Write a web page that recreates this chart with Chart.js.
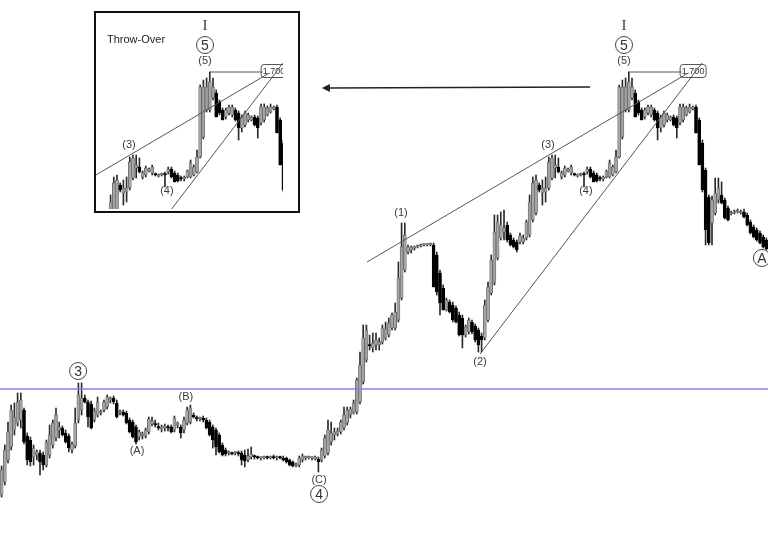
<!DOCTYPE html>
<html>
<head>
<meta charset="utf-8">
<script src="https://cdn.jsdelivr.net/npm/chart.js@4.4.0/dist/chart.umd.min.js"></script>
<style>
  body { margin: 0; background: #fff; }
  #wrap { position: relative; width: 768px; height: 540px; overflow: hidden; }
  #main { position: absolute; left: 0; top: 0; }
  #insetBox { position: absolute; left: 94px; top: 11px; width: 206px; height: 202px;
              border: 2px solid #111; box-sizing: border-box; background: #fff; }
  #inset { position: absolute; left: 96px; top: 13px; }
  #throw { position: absolute; left: 107px; top: 33px; font: 11px "Liberation Sans", Arial, sans-serif; color: #222; }
</style>
</head>
<body>
<div id="wrap">
  <canvas id="main" width="768" height="540"></canvas>
  <div id="insetBox"></div>
  <canvas id="inset" width="187" height="196"></canvas>
  <div id="throw">Throw-Over</div>
</div>
<script>
// price x1000 (1700 = 1.700)
const opens = [
  1276,1289,1311,1324,1341,1348,1351,1361,1335,1331,1314,1316,1318,1316,1306,1316,1326,1333,1341,1343,
  1338,1335,1321,1325,1351,1361,1373,1369,1367,1351,1356,1358,1361,1364,1371,1373,1368,1358,1359,1358,
  1351,1349,1344,1334,1335,1335,1339,1347,1347,1344,1342,1343,1344,1344,1341,1346,1344,1341,1348,1349,
  1356,1353,1352,1353,1351,1349,1344,1341,1336,1326,1321,1318,1318,1318,1318,1318,1316,1311,1314,1315,
  1314,1313,1313,1314,1313,1314,1313,1314,1313,1313,1311,1309,1305,1306,1311,1313,1313,1313,1312,1312,
  1311,1315,1318,1329,1336,1337,1339,1343,1348,1356,1358,1359,1369,1389,1411,1426,1423,1426,1426,1429,
  1433,1436,1443,1443,1451,1473,1501,1519,1521,1523,1524,1525,1526,1526,1526,1526,1516,1498,1483,1461,
  1469,1466,1463,1456,1453,1436,1439,1449,1445,1441,1435,1433,1451,1478,1488,1513,1533,1539,1546,1536,
  1531,1529,1529,1529,1533,1536,1551,1558,1586,1578,1579,1583,1593,1603,1604,1594,1596,1600,1598,1597,
  1595,1596,1597,1599,1602,1598,1596,1593,1592,1594,1594,1596,1599,1614,1634,1661,1661,1673,1678,1669,
  1661,1654,1658,1656,1661,1658,1643,1646,1651,1651,1654,1653,1648,1651,1656,1659,1662,1664,1651,1628,
  1601,1574,1548,1558,1571,1576,1571,1563,1557,1558,1559,1558,1559,1556,1549,1544,1541,1538,1534,1531
];
const highs = [
  1305,1326,1349,1366,1368,1378,1378,1363,1338,1334,1326,1321,1321,1319,1331,1346,1351,1363,1349,1345,
  1341,1337,1329,1363,1388,1388,1376,1371,1370,1363,1374,1361,1371,1376,1374,1375,1371,1361,1361,1360,
  1353,1351,1346,1341,1339,1343,1354,1354,1351,1348,1346,1347,1346,1346,1355,1349,1346,1354,1364,1366,
  1358,1355,1354,1355,1353,1351,1346,1343,1338,1328,1323,1320,1319,1319,1320,1320,1321,1322,1324,1316,
  1315,1314,1315,1315,1315,1316,1315,1315,1315,1314,1312,1310,1308,1315,1317,1315,1315,1314,1315,1314,
  1323,1336,1351,1349,1343,1343,1351,1364,1364,1364,1371,1393,1419,1446,1446,1436,1438,1438,1433,1446,
  1449,1453,1458,1468,1509,1548,1548,1526,1525,1525,1526,1527,1527,1527,1528,1528,1519,1501,1486,1473,
  1471,1469,1465,1459,1456,1446,1453,1451,1447,1443,1438,1471,1489,1516,1556,1556,1559,1561,1549,1538,
  1533,1531,1538,1536,1551,1576,1594,1596,1588,1591,1594,1614,1616,1616,1613,1600,1605,1603,1606,1598,
  1597,1598,1599,1604,1604,1600,1598,1595,1595,1601,1611,1606,1621,1686,1691,1693,1699,1693,1681,1671,
  1663,1663,1666,1666,1663,1660,1656,1660,1658,1655,1656,1655,1667,1667,1665,1667,1665,1666,1653,1631,
  1603,1576,1575,1593,1593,1589,1573,1565,1560,1561,1562,1561,1562,1558,1551,1546,1543,1540,1536,1533
];
const lows = [
  1274,1286,1308,1321,1336,1345,1343,1327,1306,1305,1306,1311,1296,1301,1304,1313,1323,1330,1333,1335,
  1328,1319,1318,1323,1348,1356,1368,1344,1342,1349,1354,1356,1359,1362,1368,1367,1353,1356,1355,1347,
  1338,1333,1327,1331,1332,1333,1337,1345,1344,1341,1339,1340,1340,1338,1339,1343,1333,1338,1346,1347,
  1353,1350,1350,1349,1342,1335,1323,1316,1318,1315,1315,1316,1316,1316,1315,1306,1304,1309,1312,1312,
  1312,1311,1312,1312,1312,1312,1311,1312,1310,1308,1305,1304,1304,1304,1309,1311,1312,1311,1311,1299,
  1309,1313,1316,1326,1331,1335,1337,1341,1346,1353,1357,1357,1367,1387,1409,1421,1419,1421,1421,1427,
  1431,1434,1441,1441,1449,1471,1499,1517,1518,1521,1523,1524,1525,1525,1525,1484,1476,1456,1461,1460,
  1458,1449,1448,1435,1423,1434,1437,1437,1429,1419,1419,1431,1449,1476,1486,1511,1531,1531,1529,1525,
  1523,1519,1527,1527,1531,1534,1549,1556,1579,1566,1569,1581,1591,1593,1598,1592,1594,1599,1596,1595,
  1594,1595,1584,1597,1593,1589,1589,1590,1590,1593,1593,1595,1598,1613,1632,1659,1659,1671,1654,1656,
  1651,1652,1656,1654,1650,1631,1639,1644,1649,1650,1645,1633,1646,1649,1655,1658,1661,1638,1606,1579,
  1526,1526,1526,1556,1568,1567,1552,1550,1556,1557,1558,1557,1553,1545,1537,1533,1530,1527,1523,1521
];
const closes = [
  1301,1321,1339,1361,1354,1369,1371,1329,1311,1309,1323,1319,1309,1306,1329,1336,1348,1356,1344,1336,
  1329,1323,1327,1348,1376,1373,1369,1354,1343,1360,1369,1359,1369,1374,1373,1369,1354,1359,1356,1348,
  1339,1334,1329,1339,1337,1341,1352,1350,1346,1343,1344,1345,1343,1339,1353,1348,1338,1351,1361,1363,
  1354,1352,1353,1351,1343,1336,1331,1324,1319,1316,1317,1318,1317,1318,1317,1311,1310,1315,1317,1314,
  1313,1313,1314,1313,1314,1313,1314,1313,1311,1309,1306,1305,1306,1313,1315,1314,1314,1313,1314,1309,
  1321,1333,1341,1338,1339,1340,1349,1356,1361,1362,1368,1391,1406,1433,1441,1425,1428,1431,1429,1443,
  1442,1448,1456,1459,1493,1524,1536,1524,1524,1525,1525,1526,1526,1526,1526,1484,1479,1468,1461,1471,
  1459,1451,1449,1436,1436,1444,1451,1439,1431,1426,1431,1466,1484,1511,1539,1549,1546,1543,1531,1526,
  1524,1521,1535,1533,1549,1569,1588,1591,1581,1583,1583,1609,1613,1606,1599,1598,1603,1602,1604,1596,
  1596,1597,1596,1602,1594,1589,1590,1592,1594,1600,1608,1604,1614,1684,1684,1684,1689,1684,1654,1658,
  1651,1661,1664,1664,1651,1643,1654,1658,1656,1654,1646,1643,1664,1664,1663,1664,1664,1638,1606,1581,
  1541,1528,1571,1578,1583,1568,1553,1551,1558,1559,1560,1559,1554,1546,1538,1534,1531,1528,1524,1522
];

// levels and trend lines, in (candle index, price)
const blueLevel = 1382;
const peakLevel = [[196, 1699], [212.5, 1699]];
const upperLine = [[114.2, 1509], [214.6, 1698]];
const lowerLine = [[149.5, 1417], [218.9, 1708]];
const levelTag = { text: '1.700', i: 216.1, p: 1700 };
const arrowLine = [[183.9, 1684], [100.1, 1683]];

// wave labels: [text, candle index, price]
const waveLabels = [
  ['(1)', 124.8, 1558], ['(2)', 149.5, 1409], ['(3)', 170.75, 1626], ['(4)', 182.6, 1580],
  ['(5)', 194.5, 1710], ['(A)', 42.3, 1320], ['(B)', 57.6, 1374], ['(C)', 99.2, 1291]
];
const circledLabels = [['3', 23.9, 1400], ['5', 194.5, 1726], ['4', 99.2, 1277], ['A', 237.6, 1513]];
const degreeLabels = [['I', 194.5, 1745]];

const N = opens.length;

function candleDatasets() {
  const up = opens.map((o, i) => closes[i] >= o);
  return [
    {
      type: 'bar', order: 3, grouped: false, barThickness: 1,
      data: opens.map((o, i) => ({ x: i, y: [lows[i], highs[i]] })),
      backgroundColor: '#2a2a2a'
    },
    {
      type: 'bar', order: 2, grouped: false, barThickness: 3, minBarLength: 1.5,
      data: opens.map((o, i) => ({ x: i, y: [o, closes[i]] })),
      backgroundColor: up.map(u => u ? '#a4a4a4' : '#000'),
      borderColor: up.map(u => u ? '#505050' : '#000'),
      borderWidth: 0.6, borderSkipped: false
    }
  ];
}

function lineSet(pts, color, width) {
  return {
    type: 'line', order: 1, data: pts.map(p => ({ x: p[0], y: p[1] })),
    borderColor: color, borderWidth: width, pointRadius: 0, tension: 0, fill: false
  };
}

const annotations = {
  id: 'annotations',
  beforeDatasetsDraw(chart) {
    const { ctx, chartArea: a, scales: { x, y } } = chart;
    ctx.save();
    ctx.beginPath(); ctx.rect(a.left, a.top, a.width, a.height); ctx.clip();
    const cx = x.getPixelForValue(levelTag.i), cy = y.getPixelForValue(levelTag.p);
    const w = 26, h = 13;
    ctx.beginPath();
    ctx.roundRect(cx - w / 2, cy - h / 2, w, h, 3);
    ctx.fillStyle = '#fff'; ctx.fill();
    ctx.strokeStyle = '#555'; ctx.lineWidth = 1; ctx.stroke();
    ctx.fillStyle = '#333'; ctx.font = '9px "Liberation Sans", Arial, sans-serif';
    ctx.textAlign = 'center'; ctx.textBaseline = 'middle';
    ctx.fillText(levelTag.text, cx, cy + 0.5);
    ctx.restore();
  },
  afterDatasetsDraw(chart, args, opts) {
    const { ctx, chartArea: a, scales: { x, y } } = chart;
    ctx.save();
    ctx.beginPath(); ctx.rect(a.left, a.top, a.width, a.height); ctx.clip();
    ctx.textAlign = 'center'; ctx.textBaseline = 'middle';

    ctx.fillStyle = '#3c3c3c';
    ctx.font = '11px "Liberation Sans", Arial, sans-serif';
    waveLabels.forEach(([t, i, p]) => ctx.fillText(t, x.getPixelForValue(i), y.getPixelForValue(p)));

    ctx.font = '15px "Liberation Serif", serif';
    degreeLabels.forEach(([t, i, p]) => ctx.fillText(t, x.getPixelForValue(i), y.getPixelForValue(p)));

    circledLabels.forEach(([t, i, p]) => {
      const px = x.getPixelForValue(i), py = y.getPixelForValue(p);
      ctx.beginPath(); ctx.arc(px, py, 8.5, 0, Math.PI * 2);
      ctx.fillStyle = '#fff'; ctx.fill();
      ctx.strokeStyle = '#444'; ctx.lineWidth = 1; ctx.stroke();
      ctx.fillStyle = '#333'; ctx.font = '14px "Liberation Sans", Arial, sans-serif';
      ctx.fillText(t, px, py + 1);
    });

    if (opts.arrow) {
      const x1 = x.getPixelForValue(arrowLine[0][0]), y1 = y.getPixelForValue(arrowLine[0][1]);
      const x2 = x.getPixelForValue(arrowLine[1][0]), y2 = y.getPixelForValue(arrowLine[1][1]);
      ctx.strokeStyle = '#222'; ctx.lineWidth = 1.3;
      ctx.beginPath(); ctx.moveTo(x1, y1); ctx.lineTo(x2 + 6, y2); ctx.stroke();
      ctx.fillStyle = '#222';
      ctx.beginPath(); ctx.moveTo(x2, y2); ctx.lineTo(x2 + 8, y2 - 4); ctx.lineTo(x2 + 8, y2 + 4); ctx.closePath(); ctx.fill();
    }
    ctx.restore();
  }
};

function makeChart(id, xmin, xmax, ymin, ymax, isMain) {
  const sets = candleDatasets();
  sets.push(lineSet(upperLine, '#555', 1));
  sets.push(lineSet(lowerLine, '#555', 1));
  sets.push(lineSet(peakLevel, '#555', 1));
  if (isMain) sets.push(lineSet([[-0.5, blueLevel], [N - 0.5, blueLevel]], '#8282f4', 1.5));
  return new Chart(document.getElementById(id), {
    type: 'bar',
    data: { datasets: sets },
    options: {
      responsive: false, animation: false, devicePixelRatio: 1,
      layout: { padding: 0 },
      plugins: { legend: { display: false }, tooltip: { enabled: false }, annotations: { arrow: isMain } },
      scales: {
        x: { type: 'linear', min: xmin, max: xmax, offset: false, display: false },
        y: { type: 'linear', min: ymin, max: ymax, display: false }
      }
    },
    plugins: [annotations]
  });
}

makeChart('main', -0.5, N - 0.5, 1231, 1771, true);
// inset: same bars, shifted view of the wave (3)-(5) area
makeChart('inset', 160.44, 160.44 + 187 / 3.2, 1562, 1758, false);
</script>
</body>
</html>
